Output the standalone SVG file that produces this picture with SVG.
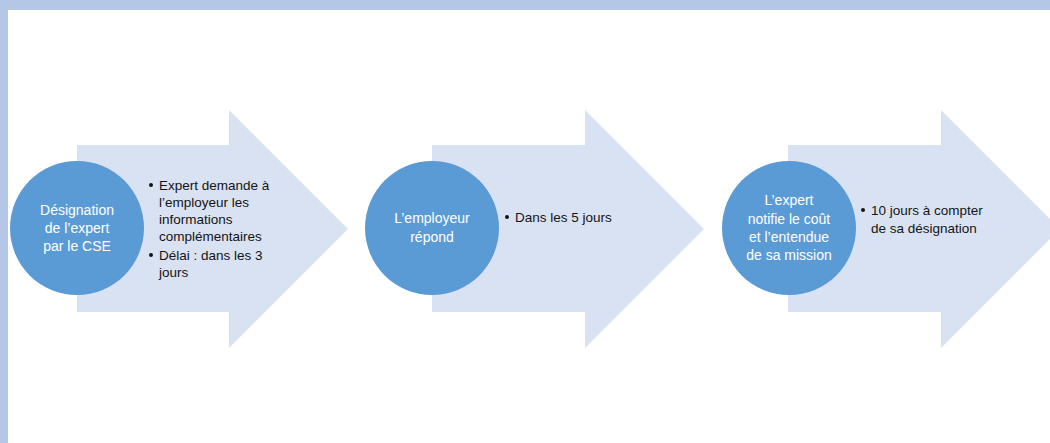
<svg xmlns="http://www.w3.org/2000/svg" width="1050" height="443" viewBox="0 0 1050 443">
<style>
.arrow{fill:#d9e2f2}
.circ{fill:#5b9bd5}
.ct{font-family:"Liberation Sans",Arial,sans-serif;font-size:14px;fill:#ffffff;text-anchor:middle}
.bt{font-family:"Liberation Sans",Arial,sans-serif;font-size:13.5px;fill:#141414}
.dot{fill:#141414}
</style>
<rect x="0" y="0" width="1050" height="443" fill="#ffffff"/>
<rect x="0" y="0" width="1050" height="10" fill="#b4c7e7"/>
<rect x="0" y="0" width="8" height="443" fill="#b4c7e7"/>
<g id="connectors">
<polygon class="arrow" points="77,145 229,145 229,110 348,229 229,348 229,312 77,312"/>
<polygon class="arrow" points="432,145 585,145 585,110 704,229 585,348 585,312 432,312"/>
<polygon class="arrow" points="788,145 941,145 941,110 1060,229 941,348 941,312 788,312"/>
</g>
<g id="step1">
<circle class="circ" cx="77" cy="228" r="67"/>
<text class="ct" x="77" y="215">Désignation</text>
<text class="ct" x="77" y="233">de l’expert</text>
<text class="ct" x="77" y="251">par le CSE</text>
</g>
<g id="step1-text">
<circle class="dot" cx="151" cy="185" r="2"/>
<text class="bt" x="159" y="190">Expert demande à</text>
<text class="bt" x="159" y="207">l’employeur les</text>
<text class="bt" x="159" y="224">informations</text>
<text class="bt" x="159" y="241">complémentaires</text>
<circle class="dot" cx="151" cy="255" r="2"/>
<text class="bt" x="159" y="260">Délai : dans les 3</text>
<text class="bt" x="159" y="277">jours</text>
</g>
<g id="step2">
<circle class="circ" cx="432" cy="228" r="67"/>
<text class="ct" x="432" y="223">L’employeur</text>
<text class="ct" x="432" y="242">répond</text>
</g>
<g id="step2-text">
<circle class="dot" cx="507" cy="217" r="2"/>
<text class="bt" x="515" y="222">Dans les 5 jours</text>
</g>
<g id="step3">
<circle class="circ" cx="789" cy="228" r="67"/>
<text class="ct" x="789" y="205">L’expert</text>
<text class="ct" x="789" y="224">notifie le coût</text>
<text class="ct" x="789" y="242">et l’entendue</text>
<text class="ct" x="789" y="260">de sa mission</text>
</g>
<g id="step3-text">
<circle class="dot" cx="863" cy="210" r="2"/>
<text class="bt" x="871" y="215">10 jours à compter</text>
<text class="bt" x="871" y="233">de sa désignation</text>
</g>
</svg>
